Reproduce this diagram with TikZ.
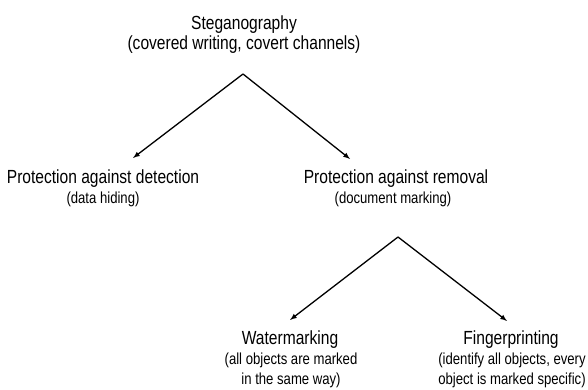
\documentclass[tikz,border=0pt]{standalone}
\usepackage{fontspec}
\setmainfont{Liberation Sans}[FakeStretch=0.82]
\usepackage{tikz}

\tikzset{
  head/.style={font=\fontsize{19}{22}\selectfont, anchor=base, inner sep=0pt},
  note/.style={font=\fontsize{16}{20}\selectfont, anchor=base, align=center, inner sep=0pt}
}

\begin{document}
\begin{tikzpicture}[>=latex, x=1pt, y=1pt, line width=1.3pt]
        \useasboundingbox (0,0) rectangle (588,390);

        \node[head] (steg) at (244,360) {Steganography}; % root
        \node[head] (stegnote) at (244,340) {(covered writing, covert channels)};

        \node[head] (detect) at (103,206) {Protection against detection}; % left
        \node[note] (detectnote) at (103,186) {(data hiding)};

        \node[head] (remove) at (396,206) {Protection against removal}; % right
        \node[note] (removenote) at (393,186) {(document marking)};

        \node[head] (water) at (290,45) {Watermarking};
        \node[note] (waternote) at (291,5) {(all objects are marked\\in the same way)};

        \node[head] (finger) at (511,45) {Fingerprinting};
        \node[note] (fingernote) at (512,5) {(identify all objects, every\\object is marked specific)};

        \coordinate (A) at (243,316); % top apex
        \coordinate (A1) at (133,232);
        \coordinate (A2) at (350,231);

        \coordinate (B) at (398,153); % lower apex
        \coordinate (B1) at (290,70);
        \coordinate (B2) at (507,69);

        \draw [->] (A) -- (A1);
        \draw [->] (A) -- (A2);

        \draw [->] (B) -- (B1);
        \draw [->] (B) -- (B2);
    \end{tikzpicture}
\end{document}
